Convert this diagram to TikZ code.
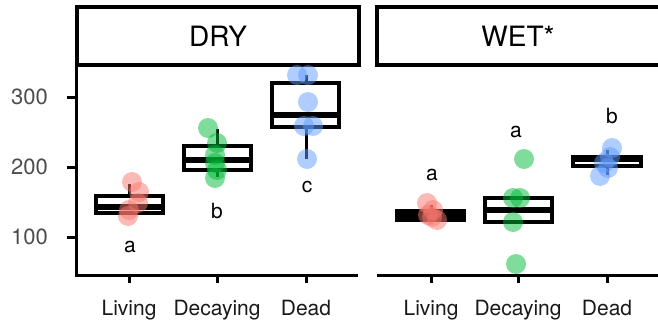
\documentclass[tikz,border=0pt]{standalone}
\usepackage{fontspec}
\setmainfont{TeX Gyre Heros}
\usepackage{xcolor}
\usepackage{tikz}
\definecolor{livingred}{HTML}{F8766D}
\definecolor{decaygreen}{HTML}{00BA38}
\definecolor{deadblue}{HTML}{619CFF}
\definecolor{axisgray}{HTML}{4D4D4D}

\begin{document}
\begin{tikzpicture}[x=1pt, y=-1pt,
        strip/.style={line width=3.2pt},
        striplabel/.style={font=\fontsize{28}{32}\selectfont, inner sep=0pt},
        axisline/.style={line width=3pt},
        boxbody/.style={draw, fill=white, line width=3.2pt},
        median/.style={line width=6pt},
        whisker/.style={line width=3pt},
        dotliving/.style={fill=livingred, fill opacity=0.5},
        dotdecay/.style={fill=decaygreen, fill opacity=0.5},
        dotdead/.style={fill=deadblue, fill opacity=0.5},
        ylab/.style={font=\fontsize{22}{24}\selectfont, text=axisgray, inner sep=0pt, anchor=east},
        xlab/.style={font=\fontsize{21}{24}\selectfont, text=black!90, inner sep=0pt, anchor=base},
        grouplab/.style={font=\fontsize{21}{24}\selectfont, inner sep=0pt, anchor=base}]
        \useasboundingbox (0,0) rectangle (658,329);

        % strips
        \draw[strip] (77,7) rectangle (359,65);
        \draw[strip] (658,7) -- (377,7) -- (377,65) -- (658,65);
        \node[striplabel] (dry) at (218,36) {DRY};
        \node[striplabel] (wet) at (518,36) {WET*};

        % axes
        \draw[axisline] (76,65) -- (76,275) -- (358,275);
        \draw[axisline] (377,275) -- (658,275);
        \draw[axisline] (67,97) -- (76,97);
        \draw[axisline] (67,167) -- (76,167);
        \draw[axisline] (67,237) -- (76,237);
        \node[ylab] (y300) at (48,97) {300};
        \node[ylab] (y200) at (48,167) {200};
        \node[ylab] (y100) at (48,237) {100};
        \draw[axisline] (129,275) -- (129,283);
        \draw[axisline] (217,275) -- (217,283);
        \draw[axisline] (306,275) -- (306,283);
        \draw[axisline] (431,275) -- (431,283);
        \draw[axisline] (518,275) -- (518,283);
        \draw[axisline] (607,275) -- (607,283);
        \node[xlab] (dryliving) at (129,315) {Living};
        \node[xlab] (drydecay) at (217,315) {Decaying};
        \node[xlab] (drydead) at (306,315) {Dead};
        \node[xlab] (wetliving) at (431,315) {Living};
        \node[xlab] (wetdecay) at (518,315) {Decaying};
        \node[xlab] (wetdead) at (607,315) {Dead};

        % dry boxes
        \draw[whisker] (129,196) -- (129,184);
        \draw[boxbody] (96,196) rectangle (163,213);
        \draw[median] (96,207) -- (163,207);
        \draw[whisker] (217,146) -- (217,129);
        \draw[whisker] (217,170) -- (217,177);
        \draw[boxbody] (184,146) rectangle (251,170);
        \draw[median] (184,160) -- (251,160);
        \draw[whisker] (306,83) -- (306,75);
        \draw[whisker] (306,127) -- (306,159);
        \draw[boxbody] (272,83) rectangle (339,127);
        \draw[median] (272,115) -- (339,115);

        % wet boxes
        \draw[whisker] (431,211) -- (431,205);
        \draw[boxbody] (397,211) rectangle (464,220);
        \draw[median] (397,215.5) -- (464,215.5);
        \draw[boxbody] (485,198) rectangle (552,222);
        \draw[median] (485,210) -- (552,210);
        \draw[whisker] (607,157) -- (607,150);
        \draw[whisker] (607,166) -- (607,175);
        \draw[boxbody] (573,157) rectangle (641,166);
        \draw[median] (573,159) -- (641,159);

        % dry points
        \fill[dotliving] (132,182) circle (10);
        \fill[dotliving] (139,192) circle (10);
        \fill[dotliving] (138,203) circle (10);
        \fill[dotliving] (129,210) circle (10);
        \fill[dotliving] (128,216) circle (10);
        \fill[dotdecay] (208,128) circle (10);
        \fill[dotdecay] (217,143) circle (10);
        \fill[dotdecay] (215,155) circle (10);
        \fill[dotdecay] (215,163) circle (10);
        \fill[dotdecay] (217,170) circle (10);
        \fill[dotdecay] (215,178) circle (10);
        \fill[dotdead] (297,75) circle (10);
        \fill[dotdead] (308,75) circle (10);
        \fill[dotdead] (308,102) circle (10);
        \fill[dotdead] (304,126) circle (10);
        \fill[dotdead] (313,126) circle (10);
        \fill[dotdead] (307,159) circle (10);

        % wet points
        \fill[dotliving] (427,203) circle (10);
        \fill[dotliving] (433,210) circle (10);
        \fill[dotliving] (428,215) circle (10);
        \fill[dotliving] (432,217) circle (10);
        \fill[dotliving] (437,220) circle (10);
        \fill[dotdecay] (524,159) circle (10);
        \fill[dotdecay] (513,198) circle (10);
        \fill[dotdecay] (520,198) circle (10);
        \fill[dotdecay] (513,222) circle (10);
        \fill[dotdecay] (516,264) circle (10);
        \fill[dotdead] (612,148) circle (10);
        \fill[dotdead] (610,157) circle (10);
        \fill[dotdead] (604,163) circle (10);
        \fill[dotdead] (608,168) circle (10);
        \fill[dotdead] (600,176) circle (10);

        % group letters
        \node[grouplab] (dryla) at (130,252) {a};
        \node[grouplab] (drylb) at (217,218) {b};
        \node[grouplab] (drylc) at (307,192) {c};
        \node[grouplab] (wetla) at (432,180) {a};
        \node[grouplab] (wetlb) at (516,137) {a};
        \node[grouplab] (wetlc) at (612,123) {b};
    \end{tikzpicture}
\end{document}
